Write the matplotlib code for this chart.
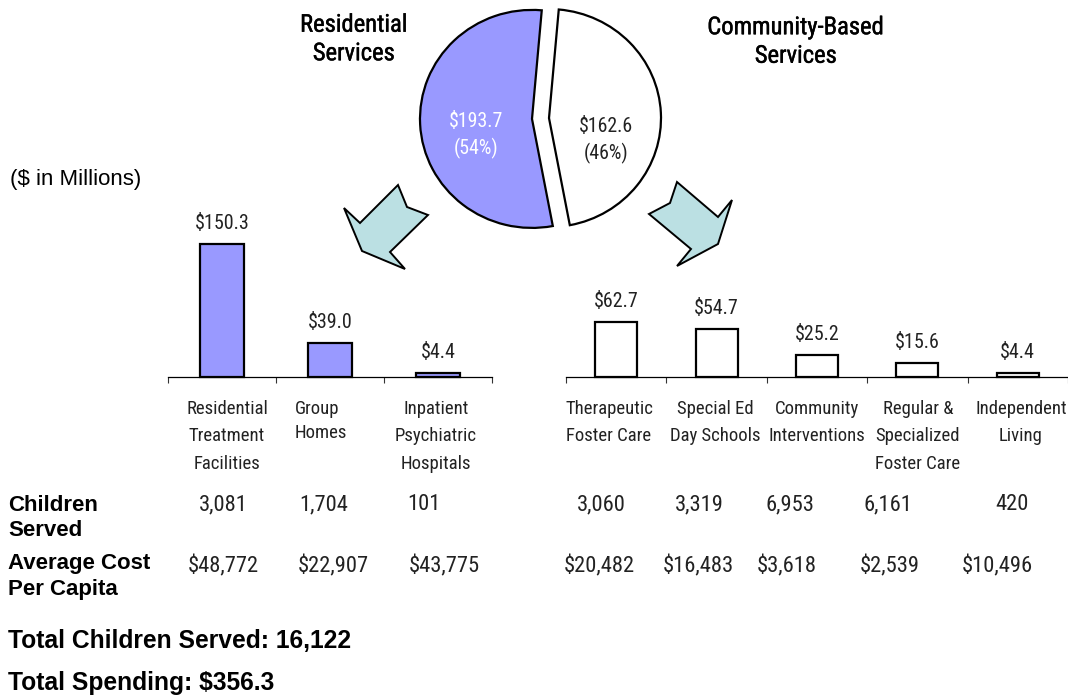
import numpy as np
import matplotlib
matplotlib.use("Agg")
import matplotlib.pyplot as plt
import matplotlib.patheffects as pe
from matplotlib.patches import Polygon
from matplotlib import font_manager as fm

W, H = 1068, 698

pie_values = [193.7, 162.6]
pie_labels = ["$193.7\n(54%)", "$162.6\n(46%)"]

res_names = ["Residential\nTreatment\nFacilities", "Group\nHomes", "Inpatient\nPsychiatric\nHospitals"]
res_values = [150.3, 39.0, 4.4]
res_children = ["3,081", "1,704", "101"]
res_cost = ["$48,772", "$22,907", "$43,775"]

com_names = ["Therapeutic\nFoster Care", "Special Ed\nDay Schools", "Community\nInterventions",
             "Regular &\nSpecialized\nFoster Care", "Independent\nLiving"]
com_values = [62.7, 54.7, 25.2, 15.6, 4.4]
com_children = ["3,060", "3,319", "6,953", "6,161", "420"]
com_cost = ["$20,482", "$16,483", "$3,618", "$2,539", "$10,496"]

purple = "#9999ff"
teal = "#bbe0e3"
dark = "#222222"

# narrow font for the numbers if there is one
names = {f.name for f in fm.fontManager.ttflist}
narrow = "Liberation Sans"
for cand in ["Liberation Sans Narrow", "Roboto Condensed", "Open Sans Condensed", "Noto Sans Condensed"]:
    if cand in names:
        narrow = cand
        break
bold = "Liberation Sans"
plt.rcParams["font.family"] = narrow

fig = plt.figure(figsize=(W / 100, H / 100), dpi=100)


def px_axes(left, right, top, bottom):
    return fig.add_axes([left / W, 1 - bottom / H, (right - left) / W, (bottom - top) / H])


# overlay in pixel coordinates for text and arrows
ov = px_axes(0, W, 0, H)
ov.set_xlim(0, W)
ov.set_ylim(H, 0)
ov.axis("off")

# pie, slightly squashed like the original (112 px wide radius, 109 px high)
rx, ry = 112, 109
cx, cy = 540.5, 118.5
pa = px_axes(0, W, 0, H)
pa.pie(pie_values, startangle=85, counterclock=True, colors=[purple, "white"],
       explode=[0.076, 0.076], radius=1, center=(0, 0),
       wedgeprops=dict(edgecolor="black", linewidth=1.6), frame=True)
pa.set_aspect("auto")
pa.set_xlim(-cx / rx, (W - cx) / rx)
pa.set_ylim((cy - H) / ry, cy / ry)
pa.axis("off")
pa.text(476, 135.5, pie_labels[0], transform=ov.transData, color="white", fontsize=14.3,
        ha="center", va="center", linespacing=1.4)
pa.text(606, 140.5, pie_labels[1], transform=ov.transData, color=dark, fontsize=14.3,
        ha="center", va="center", linespacing=1.4)

# arrows
arrow_l = [(344, 208), (360, 223), (398, 185), (407, 207), (428, 215), (390, 252), (405, 269), (362, 251)]
arrow_r = [(677, 182), (718, 217), (732, 200), (718, 244), (677, 266), (691, 249), (649, 214), (670, 203)]
for pts in (arrow_l, arrow_r):
    ov.add_patch(Polygon(pts, closed=True, facecolor=teal, edgecolor="black", linewidth=1.4))


def bars(left, right, values, color, width):
    ax = px_axes(left, right, 200, 377)
    x = np.arange(len(values))
    ax.bar(x, values, width=width, color=color, edgecolor="black", linewidth=1.6, clip_on=False)
    ax.set_xlim(-0.5, len(values) - 0.5)
    ax.set_ylim(0, 177 / 0.883)
    ax.patch.set_alpha(0)
    ax.yaxis.set_visible(False)
    for s in ("top", "left", "right"):
        ax.spines[s].set_visible(False)
    ax.spines["bottom"].set_linewidth(0.9)
    ax.set_xticks(np.arange(len(values) + 1) - 0.5)
    ax.set_xticklabels([])
    ax.tick_params(axis="x", length=4.5, width=0.8, color="#333333")
    for i, v in zip(x, values):
        ax.annotate(f"${v:.1f}", (i, v), xytext=(0, 11), textcoords="offset pixels",
                    ha="center", va="bottom", fontsize=14.4, color=dark)
    return ax


bars(168, 492, res_values, purple, 0.41)
bars(566, 1068, com_values, "white", 0.42)

# category names
name_x = [227, 321, 436, 609, 715, 817, 918, 1021]
name_ma = ["center", "left", "center", "center", "center", "center", "center", "center"]
for x, s, ma in zip(name_x, res_names + com_names, name_ma):
    ov.text(x, 400, s, ha="center", va="top", ma=ma, fontsize=13.5,
            linespacing=1.45 if ma == "left" else 1.67, color=dark)

# table rows
child_x = [223, 324, 424, 601, 699, 790, 888, 1012]
cost_x = [223, 333, 444, 599, 698, 787, 890, 997]
for x, s in zip(child_x, res_children + com_children):
    ov.text(x, 510, s, ha="center", va="baseline", fontsize=16.2, color=dark)
for x, s in zip(cost_x, res_cost + com_cost):
    ov.text(x, 572, s, ha="center", va="baseline", fontsize=16.2, color=dark)

# headers, a thin stroke because the originals look heavier than regular
heavy = [pe.withStroke(linewidth=0.3, foreground="black")]
ov.text(354, 39, "Residential\nServices", ha="center", va="center", fontsize=17.7, linespacing=1.24,
        color="black", path_effects=heavy)
ov.text(796, 41.5, "Community-Based\nServices", ha="center", va="center", fontsize=17.7, linespacing=1.24,
        color="black", path_effects=heavy)
ov.text(10, 180, "($ in Millions)", ha="left", va="center", fontsize=16, family=bold, color="black")

ov.text(8, 518, "Children\nServed", ha="left", va="center", fontsize=16, family=bold, weight="bold", linespacing=1.28)
ov.text(8, 576.5, "Average Cost\nPer Capita", ha="left", va="center", fontsize=16, family=bold, weight="bold", linespacing=1.28)
ov.text(8, 641, "Total Children Served: 16,122", ha="left", va="center", fontsize=17.7, family=bold, weight="bold")
ov.text(8, 683, "Total Spending: $356.3", ha="left", va="center", fontsize=17.7, family=bold, weight="bold")

fig.savefig("out.png", dpi=100)
